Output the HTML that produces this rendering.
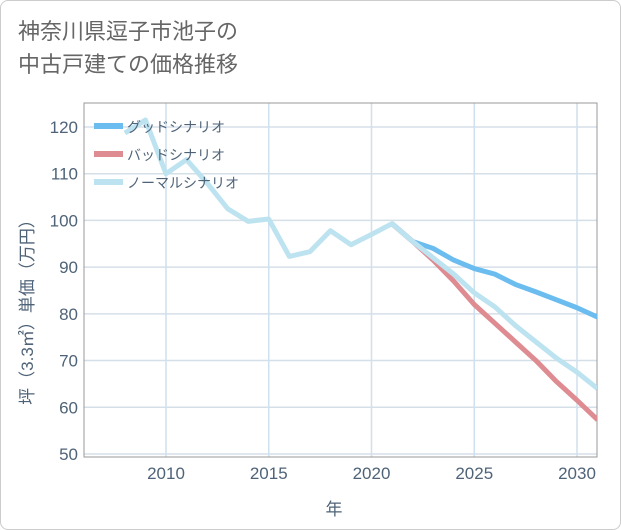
<!DOCTYPE html>
<html><head><meta charset="utf-8"><style>
body{margin:0;background:#fff;}
.wrap{position:relative;width:619px;height:528px;border:1px solid #ccc;border-radius:8px;background:#fff;overflow:hidden;font-family:"Liberation Sans","Noto Sans CJK JP",sans-serif;}
.title{position:absolute;left:17px;top:14px;font-size:22px;line-height:33px;color:#666;}
</style></head><body>
<div class="wrap">
<div class="title">神奈川県逗子市池子の<br>中古戸建ての価格推移</div>
<svg id="c" width="621" height="530" style="position:absolute;left:-1px;top:-1px"></svg>
</div>
<script>
const years=[2008,2009,2010,2011,2012,2013,2014,2015,2016,2017,2018,2019,2020,2021,2022,2023,2024,2025,2026,2027,2028,2029,2030,2031];
const normalVals=[118.7,121.5,110,113,108,102.5,99.8,100.3,92.3,93.3,97.8,94.8,97,99.3,95.5,92,88.5,84.5,81.5,77.5,74,70.5,67.5,64];
const goodYears=[2021,2022,2023,2024,2025,2026,2027,2028,2029,2030,2031];
const goodVals=[99.3,95.5,94,91.5,89.7,88.5,86.3,84.7,83,81.3,79.3];
const badVals=[99.3,95.5,91.5,87,82,78,74,70,65.5,61.5,57.3];
const yTicks=[50,60,70,80,90,100,110,120];
const xTicks=[2010,2015,2020,2025,2030];
const ns="http://www.w3.org/2000/svg",svg=document.getElementById('c');
const L=84,R=597,T=103,B=457;
const TXT='#4f6378';
const x=v=>166+(v-2010)*20.55;
const y=v=>127+(120-v)*4.671;
function mk(t,a,p){const e=document.createElementNS(ns,t);for(const k in a)e.setAttribute(k,a[k]);(p||svg).appendChild(e);return e;}
yTicks.forEach(v=>{const l=mk('line',{x1:L,x2:R,y1:y(v),y2:y(v),stroke:'#d5dfe8','stroke-width':1.5});


const t=mk('text',{x:78,y:y(v)+6,'text-anchor':'end','font-size':17,fill:TXT});t.textContent=v;

});
xTicks.forEach(v=>{const l=mk('line',{x1:x(v),x2:x(v),y1:T,y2:B,stroke:'#cfe0ee','stroke-width':1.5});


const t=mk('text',{x:x(v),y:479,'text-anchor':'middle','font-size':17,fill:TXT});t.textContent=v;

});
const fr=mk('rect',{x:L,y:T,width:R-L,height:B-T,fill:'none',stroke:'#999','stroke-width':1});


const cp=mk('clipPath',{id:'cp'});mk('rect',{x:L,y:T,width:R-L,height:B-T},cp);
function line(xs,vs,col,name){const p=mk('polyline',{points:xs.map((d,i)=>x(d)+','+y(vs[i])).join(' '),fill:'none',stroke:col,'stroke-width':5,'stroke-linejoin':'round','clip-path':'url(#cp)'});

}
line(goodYears,goodVals,'#6bbcef','good-scenario-line');
line(goodYears,badVals,'#de8b92','bad-scenario-line');
line(years,normalVals,'#bde3f0','normal-scenario-line');
const leg=[['グッドシナリオ','#6bbcef'],['バッドシナリオ','#de8b92'],['ノーマルシナリオ','#bde3f0']];
leg.forEach((d,i)=>{const g=mk('g',{});


mk('rect',{x:94,y:123+i*28,width:29,height:6,fill:d[1]},g);
const t=mk('text',{x:127,y:132+i*28,'font-size':14,fill:TXT},g);t.textContent=d[0];});
const yt=mk('text',{transform:'translate(33,308) rotate(-90)','text-anchor':'middle','font-size':17,fill:TXT});yt.textContent='坪（3.3㎡）単価（万円）';


const xt=mk('text',{x:334,y:515,'text-anchor':'middle','font-size':17,fill:TXT});xt.textContent='年';


</script>
</body></html>
